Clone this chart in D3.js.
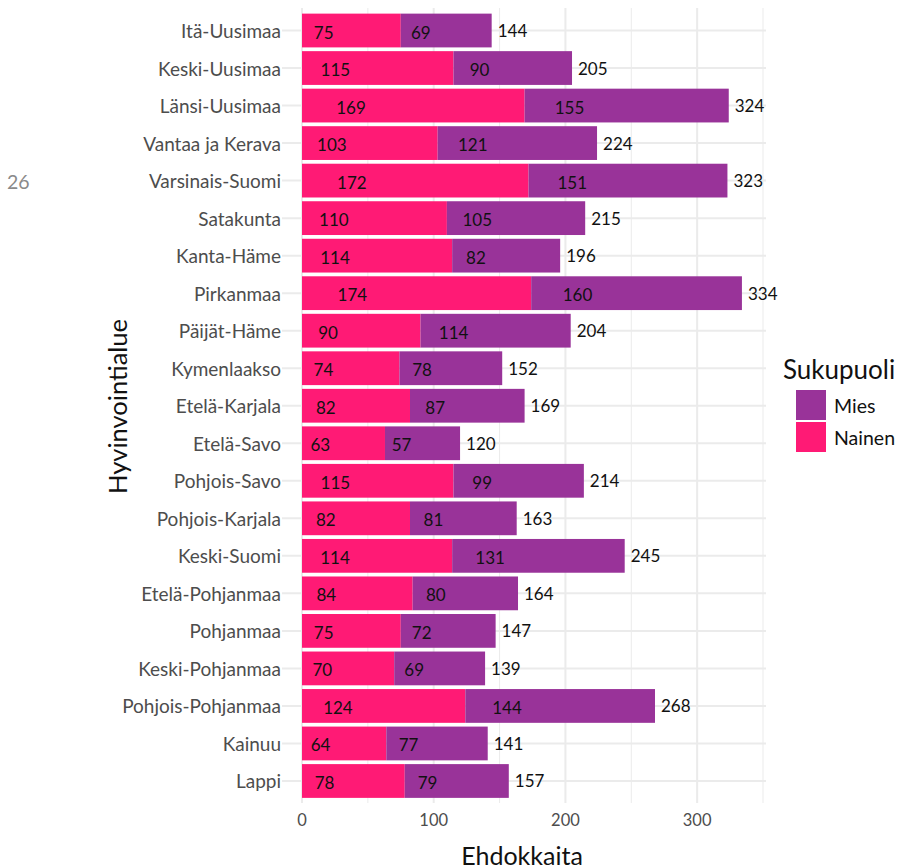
<!DOCTYPE html>
<html><head><meta charset="utf-8">
<script src="https://cdn.jsdelivr.net/npm/d3@7"></script>
<style>body{margin:0;background:#fff}svg{display:block;font-family:Lato,"Noto Sans",sans-serif}</style>
</head><body>
<svg id="c" width="900" height="867"></svg>
<script>
const categories = ["Itä-Uusimaa","Keski-Uusimaa","Länsi-Uusimaa","Vantaa ja Kerava","Varsinais-Suomi","Satakunta","Kanta-Häme","Pirkanmaa","Päijät-Häme","Kymenlaakso","Etelä-Karjala","Etelä-Savo","Pohjois-Savo","Pohjois-Karjala","Keski-Suomi","Etelä-Pohjanmaa","Pohjanmaa","Keski-Pohjanmaa","Pohjois-Pohjanmaa","Kainuu","Lappi"];
const nainen = [75,115,169,103,172,110,114,174,90,74,82,63,115,82,114,84,75,70,124,64,78];
const mies = [69,90,155,121,151,105,82,160,114,78,87,57,99,81,131,80,72,69,144,77,79];
const xTicks = [0,100,200,300];
const xMinor = [50,150,250,350];
const legendLabels = ["Mies","Nainen"];
const colors = {Mies:"#993399", Nainen:"#ff1a75"};

const svg = d3.select("#c");
const panel = {left:282, right:766, top:8, bottom:803};
const x = d3.scaleLinear().domain([0,350]).range([302,763]);
const y = d3.scaleBand().domain(categories).range([11.75,799.75]).paddingInner(0.1).paddingOuter(0.05);

const g = svg.append("g");
// gridlines
g.selectAll(".minor").data(xMinor).join("line")
  .attr("x1",d=>x(d)).attr("x2",d=>x(d)).attr("y1",panel.top).attr("y2",panel.bottom)
  .attr("stroke","#ebebeb").attr("stroke-width",1);
g.selectAll(".major").data(xTicks).join("line")
  .attr("x1",d=>x(d)).attr("x2",d=>x(d)).attr("y1",panel.top).attr("y2",panel.bottom)
  .attr("stroke","#ebebeb").attr("stroke-width",2);
g.selectAll(".hg").data(categories).join("line")
  .attr("x1",panel.left).attr("x2",panel.right)
  .attr("y1",d=>y(d)+y.bandwidth()/2).attr("y2",d=>y(d)+y.bandwidth()/2)
  .attr("stroke","#ebebeb").attr("stroke-width",2);

const rows = categories.map((c,i)=>({c, n:nainen[i], m:mies[i], t:nainen[i]+mies[i]}));
// bars
g.selectAll(".bn").data(rows).join("rect")
  .attr("x",x(0)).attr("y",d=>y(d.c)).attr("width",d=>x(d.n)-x(0)).attr("height",y.bandwidth())
  .attr("fill",colors.Nainen);
g.selectAll(".bm").data(rows).join("rect")
  .attr("x",d=>x(d.n)).attr("y",d=>y(d.c)).attr("width",d=>x(d.n+d.m)-x(d.n)).attr("height",y.bandwidth())
  .attr("fill",colors.Mies);
// value labels
const fs = 17;
g.selectAll(".ln").data(rows).join("text")
  .attr("x",d=>x(d.n*0.22)).attr("y",d=>y(d.c)+y.bandwidth()/2+1.5)
  .attr("text-anchor","middle").attr("dominant-baseline","central")
  .attr("font-size",fs).attr("fill","#111").text(d=>d.n);
g.selectAll(".lm").data(rows).join("text")
  .attr("x",d=>x(d.n+d.m*0.22)).attr("y",d=>y(d.c)+y.bandwidth()/2+1.5)
  .attr("text-anchor","middle").attr("dominant-baseline","central")
  .attr("font-size",fs).attr("fill","#111").text(d=>d.m);
g.selectAll(".lt").data(rows).join("text")
  .attr("x",d=>x(d.t)+6).attr("y",d=>y(d.c)+y.bandwidth()/2)
  .attr("text-anchor","start").attr("dominant-baseline","central")
  .attr("font-size",fs).attr("fill","#111").text(d=>d.t);

// y axis labels
g.selectAll(".yl").data(categories).join("text")
  .attr("x",281).attr("y",d=>y(d)+y.bandwidth()/2)
  .attr("text-anchor","end").attr("dominant-baseline","central")
  .attr("font-size",19).attr("fill","#4d4d4d").text(d=>d);
// x tick labels
g.selectAll(".xl").data(xTicks).join("text")
  .attr("x",d=>x(d)).attr("y",820)
  .attr("text-anchor","middle").attr("dominant-baseline","central")
  .attr("font-size",16.5).attr("fill","#4d4d4d").text(d=>d);

// axis titles
svg.append("text").attr("x",522).attr("y",855).attr("text-anchor","middle").attr("dominant-baseline","central")
  .attr("font-size",25).attr("fill","#111").text("Ehdokkaita");
svg.append("text").attr("transform","translate(117,406.5) rotate(-90)").attr("text-anchor","middle").attr("dominant-baseline","central")
  .attr("font-size",25.5).attr("fill","#111").text("Hyvinvointialue");

// stray label
svg.append("text").attr("x",7).attr("y",181).attr("dominant-baseline","central")
  .attr("font-size",19.5).attr("fill","#8a8a8a").text("26");

// legend
svg.append("text").attr("x",783).attr("y",369).attr("dominant-baseline","central")
  .attr("font-size",26).attr("fill","#111").text("Sukupuoli");
const lg = svg.append("g");
lg.selectAll("rect").data(legendLabels).join("rect")
  .attr("x",796).attr("y",(d,i)=>390+i*32).attr("width",30).attr("height",30)
  .attr("fill",d=>colors[d]);
lg.selectAll("text").data(legendLabels).join("text")
  .attr("x",834).attr("y",(d,i)=>405+i*32).attr("dominant-baseline","central")
  .attr("font-size",19.5).attr("fill","#111").text(d=>d);
</script>
</body></html>
